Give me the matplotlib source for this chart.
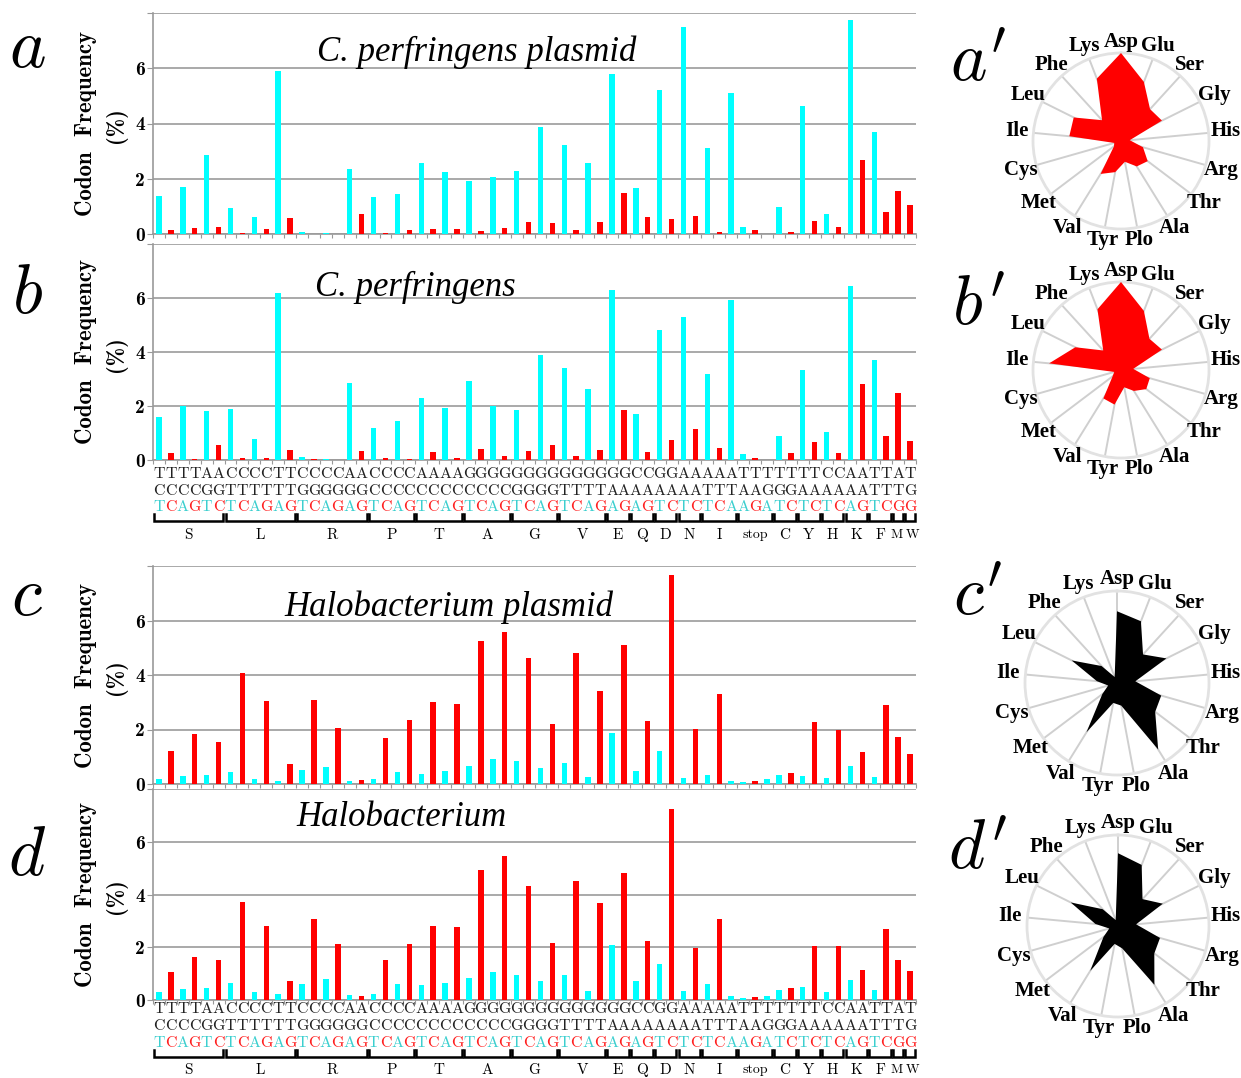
import matplotlib
matplotlib.use('Agg')
import matplotlib.pyplot as plt
import numpy as np

plt.rcParams['mathtext.fontset'] = 'cm'

W, H = 1241, 1078

codons = ['TCT', 'TCC', 'TCA', 'TCG', 'AGT', 'AGC',
          'CTT', 'CTC', 'CTA', 'CTG', 'TTA', 'TTG',
          'CGT', 'CGC', 'CGA', 'CGG', 'AGA', 'AGG',
          'CCT', 'CCC', 'CCA', 'CCG',
          'ACT', 'ACC', 'ACA', 'ACG',
          'GCT', 'GCC', 'GCA', 'GCG',
          'GGT', 'GGC', 'GGA', 'GGG',
          'GTT', 'GTC', 'GTA', 'GTG',
          'GAA', 'GAG', 'CAA', 'CAG', 'GAT', 'GAC', 'AAT', 'AAC',
          'ATT', 'ATC', 'ATA', 'TAA', 'TAG', 'TGA',
          'TGT', 'TGC', 'TAT', 'TAC', 'CAT', 'CAC', 'AAA', 'AAG',
          'TTT', 'TTC', 'ATG', 'TGG']
groups = ['S', 'L', 'R', 'P', 'T', 'A', 'G', 'V', 'E', 'Q', 'D', 'N',
          'I', 'stop', 'C', 'Y', 'H', 'K', 'F', 'M', 'W']
group_sizes = [6, 6, 6, 4, 4, 4, 4, 4, 2, 2, 2, 2, 3, 3, 2, 2, 2, 2, 2, 1, 1]

# codon frequency (%) per panel
cp_plasmid = [1.37, 0.14, 1.69, 0.20, 2.86, 0.24, 0.93, 0.02, 0.61, 0.17, 5.90, 0.58,
              0.07, 0.0, 0.04, 0.0, 2.37, 0.72, 1.34, 0.02, 1.45, 0.14,
              2.56, 0.17, 2.24, 0.17, 1.92, 0.11, 2.06, 0.20, 2.28, 0.45, 3.87, 0.39,
              3.21, 0.14, 2.58, 0.42, 5.79, 1.48, 1.65, 0.61, 5.21, 0.54, 7.49, 0.65,
              3.10, 0.07, 5.10, 0.27, 0.14, 0.0, 0.96, 0.07, 4.63, 0.46, 0.72, 0.24,
              7.73, 2.69, 3.69, 0.80, 1.56, 1.04]
cp_genome = [1.59, 0.25, 2.01, 0.04, 1.80, 0.56, 1.89, 0.07, 0.79, 0.07, 6.19, 0.37,
             0.10, 0.04, 0.04, 0.0, 2.86, 0.35, 1.17, 0.07, 1.44, 0.04,
             2.31, 0.28, 1.93, 0.07, 2.93, 0.41, 2.00, 0.14, 1.86, 0.35, 3.89, 0.56,
             3.42, 0.14, 2.62, 0.37, 6.28, 1.85, 1.69, 0.28, 4.80, 0.73, 5.28, 1.14,
             3.17, 0.44, 5.93, 0.23, 0.06, 0.0, 0.89, 0.25, 3.35, 0.67, 1.04, 0.25,
             6.46, 2.83, 3.69, 0.89, 2.48, 0.69]
hb_plasmid = [0.17, 1.21, 0.31, 1.83, 0.34, 1.55, 0.45, 4.07, 0.17, 3.06, 0.11, 0.73,
              0.51, 3.10, 0.62, 2.06, 0.11, 0.13, 0.17, 1.68, 0.45, 2.34,
              0.38, 3.00, 0.49, 2.93, 0.66, 5.24, 0.93, 5.56, 0.83, 4.62, 0.59, 2.20,
              0.76, 4.82, 0.27, 3.41, 1.86, 5.09, 0.48, 2.31, 1.21, 7.66, 0.21, 2.03,
              0.34, 3.31, 0.11, 0.07, 0.11, 0.17, 0.34, 0.42, 0.31, 2.27, 0.23, 1.99,
              0.66, 1.17, 0.24, 2.89, 1.72, 1.10]
hb_genome = [0.30, 1.05, 0.42, 1.62, 0.46, 1.51, 0.65, 3.71, 0.30, 2.81, 0.23, 0.71,
             0.61, 3.08, 0.80, 2.14, 0.19, 0.15, 0.23, 1.51, 0.61, 2.13,
             0.57, 2.81, 0.65, 2.77, 0.84, 4.94, 1.05, 5.47, 0.95, 4.32, 0.72, 2.18,
             0.95, 4.51, 0.34, 3.68, 2.09, 4.80, 0.72, 2.22, 1.35, 7.24, 0.34, 1.99,
             0.61, 3.08, 0.15, 0.08, 0.11, 0.15, 0.38, 0.46, 0.49, 2.06, 0.30, 2.06,
             0.75, 1.13, 0.38, 2.70, 1.51, 1.09]

amino = ['Asp', 'Glu', 'Ser', 'Gly', 'His', 'Arg', 'Thr', 'Ala', 'Plo',
         'Tyr', 'Val', 'Met', 'Cys', 'Ile', 'Leu', 'Phe', 'Lys']
radar_a = [1.0, 0.72, 0.49, 0.52, 0.10, 0.26, 0.38, 0.34, 0.24, 0.36, 0.44, 0.10, 0.08, 0.59, 0.60, 0.32, 0.76]
radar_b = [1.0, 0.72, 0.48, 0.52, 0.14, 0.34, 0.36, 0.28, 0.20, 0.40, 0.38, 0.12, 0.08, 0.82, 0.58, 0.30, 0.74]
radar_c = [0.78, 0.72, 0.42, 0.60, 0.20, 0.50, 0.52, 0.85, 0.25, 0.22, 0.63, 0.20, 0.10, 0.22, 0.55, 0.25, 0.07]
radar_d = [0.80, 0.72, 0.40, 0.55, 0.20, 0.48, 0.50, 0.76, 0.25, 0.20, 0.58, 0.20, 0.10, 0.25, 0.58, 0.25, 0.07]

CYAN = '#00ffff'
RED = '#ff0000'

fig = plt.figure(figsize=(W / 100, H / 100), dpi=100)


def ftext(x, y, s, **kw):
    kw.setdefault('ha', 'center')
    kw.setdefault('va', 'center')
    fig.text(x / W, 1 - y / H, s, **kw)


def bar_panel(top, bottom, vals, title, tx, ty, letter, ly, rows=None):
    left, right = 153, 916
    hpx = bottom - top
    ax = fig.add_axes([left / W, 1 - bottom / H, (right - left) / W, hpx / H])
    x = np.arange(len(codons))
    colors = [CYAN if c[2] in 'AT' else RED for c in codons]
    ax.bar(x, vals, width=0.46, color=colors, zorder=3)
    ax.set_xlim(-0.5, 63.5)
    ax.set_ylim(0, 8)
    ax.set_yticks([0, 2, 4, 6, 8])
    ax.set_yticklabels(['0', '2', '4', '6', ''], fontfamily='cmb10', fontsize=14)
    ax.set_xticks(np.arange(-0.5, 64, 1))
    ax.set_xticklabels([])
    ax.tick_params(axis='x', length=3, color='#999999')
    ax.tick_params(axis='y', length=4, color='#999999', pad=2)
    ax.yaxis.grid(True, color='#a9a9a9', lw=1.4)
    ax.set_axisbelow(True)
    for s in ['top', 'right']:
        ax.spines[s].set_visible(False)
    for s in ['left', 'bottom']:
        ax.spines[s].set_color('#999999')
        ax.spines[s].set_linewidth(1.2)

    ftext(tx, ty, title, fontsize=25, fontfamily='Liberation Serif', fontstyle='italic')
    ftext(27, ly, '$' + letter + '$', fontsize=50)
    cy = (top + bottom) / 2
    ftext(86, cy, 'Codon  Frequency', rotation=90, fontfamily='cmb10', fontsize=16.5)
    ftext(116, cy + 2, '(%)', rotation=90, fontfamily='cmb10', fontsize=16)

    if rows is None:
        return
    tr = ax.get_xaxis_transform()
    r1, r2, r3, rb, rl = [-o / hpx for o in rows]
    for i, c in enumerate(codons):
        ax.text(i, r1, c[0], transform=tr, ha='center', va='center',
                fontfamily='cmr10', fontsize=11.5, color='#222222')
        ax.text(i, r2, c[1], transform=tr, ha='center', va='center',
                fontfamily='cmr10', fontsize=11.5, color='#222222')
        ax.text(i, r3, c[2], transform=tr, ha='center', va='center',
                fontfamily='cmr10', fontsize=11.5,
                color='#3ccfcf' if c[2] in 'AT' else '#ff2020')
    tick = 7 / hpx
    start = 0
    for g, n in zip(groups, group_sizes):
        x0 = start - 0.5 + 0.09
        x1 = start + n - 0.5 - 0.09
        ax.plot([x0, x0, x1, x1], [rb + tick, rb, rb, rb + tick], transform=tr,
                color='black', lw=1.8, clip_on=False, solid_joinstyle='miter')
        xc = start + (n - 1) / 2
        fs = 11
        if g == 'stop':
            fs = 10
        elif g == 'M':
            xc -= 0.12
            fs = 9.5
        elif g == 'W':
            xc += 0.18
            fs = 9.5
        ax.text(xc, rl, g, transform=tr, ha='center', va='center',
                fontfamily='cmr10', fontsize=fs)
        start += n


bar_panel(13, 234, cp_plasmid, 'C. perfringens plasmid', 477, 52, 'a', 48)
bar_panel(244, 460, cp_genome, 'C. perfringens', 415, 287, 'b', 293,
          rows=(14, 31, 47, 61, 75))
bar_panel(566, 784, hb_plasmid, 'Halobacterium plasmid', 449, 607, 'c', 595)
bar_panel(789, 1000, hb_genome, 'Halobacterium', 402, 817, 'd', 855,
          rows=(9, 26, 43, 57, 70))


def radar(cx, cy, r, vals, color, letter, ly):
    ax = fig.add_axes([(cx - r) / W, 1 - (cy + r) / H, 2 * r / W, 2 * r / H],
                      projection='polar')
    ax.set_theta_zero_location('N')
    ax.set_theta_direction(-1)
    ang = np.arange(len(amino)) * 2 * np.pi / len(amino)
    ax.set_ylim(0, 1)
    ax.grid(False)
    ax.set_xticks([])
    ax.set_yticks([])
    ax.spines['polar'].set_color('#e2e2e2')
    ax.spines['polar'].set_linewidth(2)
    for a in ang:
        ax.plot([a, a], [0, 1], color='#cfcfcf', lw=1.4, zorder=1)
    ax.fill(np.r_[ang, ang[0]], np.r_[vals, vals[0]], color=color, zorder=3, lw=0)
    for a, name in zip(ang, amino):
        rr = 1.13 + 0.06 * abs(np.sin(a))
        ax.text(a, rr, name, ha='center', va='center', fontfamily='Liberation Serif',
                fontweight='bold', fontsize=15, clip_on=False)
    ftext(978, ly, "$" + letter + "'$", fontsize=50)


radar(1121, 141, 88, radar_a, RED, 'a', 62)
radar(1121, 370, 88, radar_b, RED, 'b', 305)
radar(1117, 683, 92, radar_c, 'black', 'c', 595)
radar(1118, 926, 91, radar_d, 'black', 'd', 850)

fig.savefig('out.png', dpi=100, facecolor='white')
